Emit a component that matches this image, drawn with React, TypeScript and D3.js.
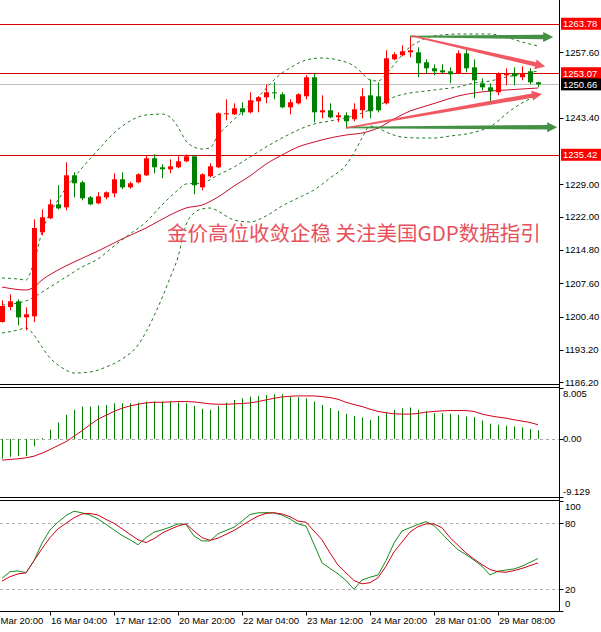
import React from 'react';
import * as d3 from 'd3';

const W = 601;
const H = 632;

// ---- candles (H4), index 0..67 ----
const opens = [1199.22,1202.47,1203.70,1200.24,1200.46,1218.64,1221.67,1224.70,1224.05,1230.98,1229.46,1226.21,1224.92,1226.21,1227.08,1230.11,1228.38,1229.46,1230.98,1234.66,1232.71,1232.28,1232.71,1234.01,1235.09,1228.38,1230.76,1232.71,1244.18,1244.18,1245.48,1244.61,1246.99,1247.86,1248.94,1248.51,1245.70,1246.56,1248.08,1252.19,1244.61,1245.05,1243.53,1243.96,1243.10,1245.05,1248.29,1248.08,1246.56,1256.08,1256.95,1257.60,1257.60,1255.44,1254.14,1253.70,1253.49,1253.05,1257.38,1254.35,1250.89,1250.02,1248.94,1252.62,1253.05,1252.19,1253.49,1251.11];
const highs = [1203.92,1205.22,1204.14,1202.40,1221.45,1223.62,1225.78,1228.82,1233.79,1231.63,1229.80,1226.50,1227.30,1227.50,1231.41,1231.63,1229.60,1231.41,1235.31,1235.52,1233.36,1234.44,1235.09,1235.50,1235.30,1231.40,1233.57,1244.61,1247.43,1246.56,1246.78,1248.94,1248.10,1250.67,1251.11,1248.94,1247.43,1248.73,1252.62,1253.05,1248.29,1246.56,1244.61,1244.61,1246.56,1249.81,1251.76,1251.11,1258.03,1257.60,1259.12,1261.06,1258.68,1256.08,1255.00,1255.00,1254.35,1258.03,1258.25,1256.08,1251.97,1250.89,1253.27,1254.14,1254.35,1254.57,1254.14,1251.20];
const lows = [1199.10,1201.76,1198.51,1197.43,1199.22,1217.99,1221.50,1223.60,1223.40,1226.21,1225.57,1224.50,1224.70,1225.78,1226.21,1227.95,1228.10,1229.25,1230.80,1231.41,1230.33,1231.41,1232.50,1233.80,1226.86,1227.73,1230.50,1232.50,1242.88,1244.00,1243.96,1244.40,1244.61,1246.56,1247.43,1245.48,1244.18,1246.30,1247.43,1242.45,1243.31,1243.30,1242.45,1241.15,1242.66,1243.31,1243.31,1244.60,1246.30,1255.90,1256.70,1256.52,1252.19,1253.05,1252.62,1253.05,1250.89,1252.84,1253.27,1247.64,1249.37,1246.99,1248.29,1250.46,1250.46,1251.54,1250.67,1250.02];
const closes = [1202.69,1203.70,1200.24,1200.89,1219.57,1221.89,1224.70,1223.83,1230.98,1229.25,1226.00,1224.70,1226.43,1227.30,1230.11,1228.38,1229.25,1231.19,1234.66,1232.71,1232.28,1232.92,1234.01,1235.09,1228.82,1231.19,1232.92,1244.40,1244.40,1245.48,1244.61,1247.21,1247.86,1248.94,1248.73,1245.70,1246.78,1248.51,1252.19,1244.61,1245.05,1243.53,1243.96,1242.66,1245.26,1248.08,1244.83,1245.05,1256.30,1257.17,1257.82,1258.03,1255.22,1254.14,1253.49,1253.27,1252.84,1257.38,1254.14,1251.54,1250.02,1249.16,1253.05,1253.05,1252.41,1253.05,1251.11,1250.66];

// ---- Bollinger bands & moving average, read as [candle index, price] ----
const bbUpper: [number, number][] = [[0,1208.75],[2,1208.53],[3,1208.31],[4,1212.21],[5,1218.70],[6,1222.82],[7,1225.63],[8,1228.23],[10,1232.56],[12,1236.45],[14,1240.13],[16,1242.73],[18,1244.03],[20,1244.24],[21,1243.60],[22,1241.43],[23,1238.40],[24,1237.10],[25,1236.67],[26,1236.89],[27,1239.70],[28,1241.43],[30,1244.68],[32,1247.92],[34,1251.60],[35,1253.12],[36,1254.20],[38,1255.93],[40,1256.37],[42,1255.93],[44,1254.63],[45,1253.12],[46,1251.60],[47,1251.39],[48,1252.90],[49,1254.85],[50,1257.02],[51,1258.75],[52,1259.83],[53,1260.70],[55,1261.35],[57,1261.56],[59,1261.56],[61,1261.56],[63,1260.91],[65,1259.83],[67,1258.96]];
const bbMiddle: [number, number][] = [[0,1202.90],[2,1203.34],[3,1203.77],[4,1204.64],[6,1206.80],[8,1208.96],[10,1211.13],[12,1212.86],[14,1215.67],[16,1218.27],[18,1220.87],[20,1224.55],[22,1227.80],[23,1229.09],[25,1229.31],[27,1231.04],[29,1232.77],[31,1234.94],[33,1237.10],[35,1239.05],[37,1240.78],[39,1242.08],[41,1242.73],[43,1243.38],[45,1244.46],[47,1245.98],[49,1247.92],[51,1248.79],[53,1249.22],[55,1249.66],[57,1250.09],[59,1250.96],[61,1251.39],[63,1252.25],[65,1252.90],[67,1253.55]];
const bbLower: [number, number][] = [[0,1196.84],[2,1197.49],[3,1197.92],[4,1196.41],[5,1193.81],[6,1191.43],[7,1189.92],[8,1188.83],[9,1188.18],[11,1188.40],[13,1189.48],[15,1191.21],[17,1194.24],[18,1197.06],[19,1200.52],[20,1204.42],[21,1208.75],[22,1213.29],[23,1220.22],[24,1222.82],[25,1223.68],[26,1223.90],[27,1223.25],[28,1222.17],[29,1221.30],[31,1220.87],[33,1222.17],[35,1224.33],[37,1226.06],[39,1227.80],[41,1230.39],[43,1233.21],[44,1235.80],[45,1239.05],[46,1241.65],[47,1241.21],[48,1240.35],[50,1239.27],[52,1239.05],[54,1239.05],[56,1239.48],[58,1239.92],[60,1240.78],[61,1241.43],[62,1242.73],[63,1244.24],[65,1246.63],[67,1248.36]];
const maLine: [number, number][] = [[0,1206.80],[3,1206.15],[4,1206.80],[5,1208.31],[7,1210.48],[9,1212.21],[12,1214.59],[15,1217.19],[18,1219.57],[21,1222.38],[23,1223.90],[25,1224.55],[27,1226.28],[29,1228.66],[31,1230.83],[33,1233.42],[35,1235.37],[37,1237.10],[39,1238.18],[41,1239.05],[43,1239.70],[45,1240.13],[47,1241.21],[49,1243.16],[51,1244.89],[53,1245.98],[55,1247.06],[57,1248.14],[59,1248.79],[61,1249.22],[63,1249.44],[65,1249.66],[67,1249.87]];

// ---- MACD ----
const macdHist = [-3.07,-2.81,-2.71,-2.71,-1.15,0.15,1.45,2.59,3.79,4.57,5.09,5.09,5.25,5.35,5.61,5.61,5.61,5.71,5.87,5.87,5.87,5.87,5.71,5.61,5.20,4.73,4.57,5.20,5.71,6.13,6.39,6.65,6.76,6.90,7.02,7.02,6.65,6.56,6.39,5.87,5.35,4.83,4.42,3.95,3.63,3.37,3.01,3.63,4.15,4.57,4.83,4.94,4.57,4.32,4.06,4.06,3.95,3.79,3.53,3.43,2.91,2.39,2.24,2.07,1.97,1.81,1.55,1.35];
const macdSignal = [-3.33,-3.23,-3.12,-2.97,-2.71,-2.24,-1.67,-1.04,-0.43,0.41,1.29,2.23,3.11,3.71,4.32,4.83,5.18,5.45,5.66,5.76,5.76,5.82,5.87,5.87,5.82,5.66,5.51,5.45,5.45,5.51,5.56,5.66,5.87,6.13,6.39,6.60,6.71,6.76,6.76,6.76,6.65,6.50,6.23,5.76,5.40,5.09,4.68,4.32,4.11,3.95,3.90,3.90,4.00,4.21,4.32,4.41,4.46,4.46,4.46,4.32,3.90,3.64,3.43,3.27,3.01,2.80,2.59,2.23];

// ---- Stochastic ----
const stochK = [30,36,36.7,35,46,62,74,81,87,91,89.5,87.5,84,79,74,69,65,60.5,67,72,74,76.5,79.5,79,68.5,64,64,70.5,73.5,76.5,82,88,89.5,89.7,89.5,87.5,84,79.5,77.5,61,44,39,34,28,20,28.5,31,33,46,62,73,76,79,81.5,78,70.5,63,56,51.5,46.5,41,33,36.5,37.5,38.5,41,44.5,48];
const stochD = [27.5,31.5,34,35,46,57,67,75,80,85,88.5,89,87.5,83.5,80,75,70,65,62.5,66,71,74.5,77.5,79.5,73,67,64.5,66.5,70,73.5,78,82.5,86.5,89,89.5,88.5,86,82,81,73,65,53,42,35,28,25,26,30.5,41,54,63,72,77,79.5,79.4,76,67,60,53,47.5,42.5,38,36,35.5,37,39,41.5,44];

// ---- axes / labels ----
const priceTicks = [1257.60, 1243.40, 1229.00, 1222.00, 1214.80, 1207.60, 1200.40, 1193.20, 1186.20];
const levelLines = [1263.78, 1253.07, 1235.42];
const lastPrice = 1250.66;
const macdLabels = [8.005, 0, -9.129];
const stochLevels = [80, 20];
const stochLabels = [100, 80, 20, 0];
const timeIdx = [-2, 6, 14, 22, 30, 38, 46, 54, 62];
const timeLabels = ['Mar 20:00','16 Mar 04:00','17 Mar 12:00','20 Mar 20:00','22 Mar 04:00','23 Mar 12:00','24 Mar 20:00','28 Mar 01:00','29 Mar 08:00'];
const title = '金价高位收敛企稳 关注美国GDP数据指引';

// annotation arrows: [fromIndex, fromPrice, toIndex, toPrice]
const greenArrows: [number, number, number, number][] = [[51, 1261.0, 68.9, 1260.9], [43, 1241.3, 69.4, 1241.4]];
const redArrows: [number, number, number, number][] = [[51.2, 1261.2, 67.9, 1254.5], [43, 1241.2, 67.5, 1248.6]];

const AXIS_X = 559.5;
const FONT = '"Liberation Sans", Arial, sans-serif';

function arrowPath(x1: number, y1: number, x2: number, y2: number, w0: number, w1: number, hl: number, hw: number) {
  const dx = x2 - x1, dy = y2 - y1;
  const L = Math.hypot(dx, dy);
  const ux = dx / L, uy = dy / L;
  const nx = -uy, ny = ux;
  const bx = x2 - ux * hl, by = y2 - uy * hl;
  const p = [
    [x1 + nx * w0 / 2, y1 + ny * w0 / 2],
    [bx + nx * w1 / 2, by + ny * w1 / 2],
    [bx + nx * hw / 2, by + ny * hw / 2],
    [x2, y2],
    [bx - nx * hw / 2, by - ny * hw / 2],
    [bx - nx * w1 / 2, by - ny * w1 / 2],
    [x1 - nx * w0 / 2, y1 - ny * w0 / 2],
  ];
  return 'M' + p.map(q => q[0].toFixed(2) + ',' + q[1].toFixed(2)).join('L') + 'Z';
}

export default function App() {
  const x = d3.scaleLinear().domain([0, 67]).range([2, 538]);
  const yP = d3.scaleLinear().domain([1185.70, 1268.92]).range([384.5, 0]);
  const yM = d3.scaleLinear().domain([-9.129, 8.005]).range([497, 388]);
  const yS = d3.scaleLinear().domain([0, 100]).range([611.3, 501.3]);

  const pLine = d3.line<[number, number]>().x(d => x(d[0])).y(d => yP(d[1])).curve(d3.curveMonotoneX);
  const mLine = d3.line<number>().x((_, i) => x(i)).y(d => yM(d));
  const sLine = d3.line<number>().x((_, i) => x(i)).y(d => yS(d));

  const red = '#ff0000';
  const green = '#008000';

  return (
    <svg width={W} height={H} viewBox={`0 0 ${W} ${H}`} style={{ position: 'absolute', left: 0, top: 0, background: '#fff' }}>
      <defs>
        <clipPath id="pc"><rect x={0} y={0} width={AXIS_X} height={384} /></clipPath>
        <clipPath id="mc"><rect x={0} y={388} width={AXIS_X} height={109} /></clipPath>
        <clipPath id="sc"><rect x={0} y={501} width={AXIS_X} height={110} /></clipPath>
      </defs>
      <rect x={0} y={0} width={W} height={H} fill="#fff" />

      {/* ---------- price panel ---------- */}
      <g clipPath="url(#pc)">
        {levelLines.map(v => (
          <line key={v} x1={0} x2={AXIS_X} y1={Math.round(yP(v)) + 0.5} y2={Math.round(yP(v)) + 0.5} stroke="#d40000" strokeWidth={1} />
        ))}
        <line x1={0} x2={AXIS_X} y1={Math.round(yP(lastPrice)) + 0.5} y2={Math.round(yP(lastPrice)) + 0.5} stroke="#c0c0c0" strokeWidth={1} />

        {[bbUpper, bbMiddle, bbLower].map((d, k) => (
          <path key={k} d={pLine(d) || ''} fill="none" stroke="#1f7a1f" strokeWidth={1} strokeDasharray="3,3" />
        ))}
        <path d={pLine(maLine) || ''} fill="none" stroke="#c8102e" strokeWidth={1} />

        <text x={167} y={232} fill="#e8505c" fontFamily='"Noto Sans CJK SC", sans-serif' fontSize={20.5} dominantBaseline="central">{title}</text>

        {closes.map((c, i) => {
          const o = opens[i];
          const up = c >= o;
          const col = up ? red : green;
          const cx = Math.round(x(i));
          const top = yP(Math.max(o, c));
          const bot = yP(Math.min(o, c));
          return (
            <g key={i}>
              <line x1={cx + 0.5} x2={cx + 0.5} y1={yP(highs[i])} y2={yP(lows[i])} stroke={col} strokeWidth={1} />
              <rect x={cx - 2} y={top} width={5} height={Math.max(1, bot - top)} fill={col} />
            </g>
          );
        })}

        {greenArrows.map((a, k) => (
          <path key={'g' + k} d={arrowPath(x(a[0]), yP(a[1]), x(a[2]), yP(a[3]), 1.5, 4.5, 10, 10)} fill="#3a8a3a" opacity={0.95} />
        ))}
        {redArrows.map((a, k) => (
          <path key={'r' + k} d={arrowPath(x(a[0]), yP(a[1]), x(a[2]), yP(a[3]), 1.5, 4.5, 10, 10)} fill="#f0505a" opacity={0.95} />
        ))}
      </g>

      {/* ---------- MACD panel ---------- */}
      <g clipPath="url(#mc)">
        <line x1={0} x2={AXIS_X} y1={Math.round(yM(0)) + 0.5} y2={Math.round(yM(0)) + 0.5} stroke="#a8a8a8" strokeDasharray="3,3" />
        {macdHist.map((v, i) => (
          <line key={i} x1={Math.round(x(i)) + 0.5} x2={Math.round(x(i)) + 0.5} y1={yM(0)} y2={yM(v)} stroke={green} strokeWidth={1} />
        ))}
        <path d={mLine(macdSignal) || ''} fill="none" stroke="#d0021b" strokeWidth={1} />
      </g>

      {/* ---------- Stochastic panel ---------- */}
      <g clipPath="url(#sc)">
        {stochLevels.map(v => (
          <line key={v} x1={0} x2={AXIS_X} y1={Math.round(yS(v)) + 0.5} y2={Math.round(yS(v)) + 0.5} stroke="#b0b0b0" strokeDasharray="3,3" />
        ))}
        <path d={sLine(stochK) || ''} fill="none" stroke="#1a8a1a" strokeWidth={1} />
        <path d={sLine(stochD) || ''} fill="none" stroke="#d0021b" strokeWidth={1} />
      </g>

      {/* ---------- frames ---------- */}
      <line x1={0} x2={AXIS_X} y1={384.5} y2={384.5} stroke="#000" />
      <line x1={0} x2={AXIS_X} y1={387.5} y2={387.5} stroke="#000" />
      <line x1={0} x2={AXIS_X} y1={497.5} y2={497.5} stroke="#000" />
      <line x1={0} x2={AXIS_X} y1={500.5} y2={500.5} stroke="#000" />
      <line x1={0} x2={AXIS_X} y1={611.5} y2={611.5} stroke="#000" />
      <line x1={AXIS_X} x2={AXIS_X} y1={0} y2={611.5} stroke="#000" />

      {/* ---------- price axis ---------- */}
      <g fontFamily={FONT} fontSize={9.5} fill="#000">
        {priceTicks.map(v => {
          const yy = Math.min(yP(v), 383);
          return (
            <g key={v}>
              <line x1={AXIS_X} x2={AXIS_X + 4} y1={Math.round(yy) + 0.5} y2={Math.round(yy) + 0.5} stroke="#000" />
              <text x={565} y={yy + 3.4}>{v.toFixed(2)}</text>
            </g>
          );
        })}
        {levelLines.map(v => (
          <g key={v}>
            <rect x={561} y={yP(v) - 6} width={40} height={12} fill={red} />
            <text x={563} y={yP(v) + 3.4} fill="#fff">{v.toFixed(2)}</text>
          </g>
        ))}
        <rect x={561} y={yP(lastPrice) - 6} width={40} height={12} fill="#000" />
        <text x={563} y={yP(lastPrice) + 3.4} fill="#fff">{lastPrice.toFixed(2)}</text>

        {/* MACD axis */}
        {macdLabels.map(v => {
          const yy = Math.max(394, Math.min(492, yM(v)));
          return (
            <g key={v}>
              <line x1={AXIS_X} x2={AXIS_X + 4} y1={Math.round(yM(v)) + 0.5} y2={Math.round(yM(v)) + 0.5} stroke="#000" />
              <text x={563} y={yy + 3.4}>{v === 0 ? '0.00' : String(v)}</text>
            </g>
          );
        })}

        {/* Stochastic axis */}
        {stochLabels.map(v => {
          const yy = Math.max(507, Math.min(604, yS(v)));
          return (
            <g key={v}>
              <line x1={AXIS_X} x2={AXIS_X + 4} y1={Math.round(yS(v)) + 0.5} y2={Math.round(yS(v)) + 0.5} stroke="#000" />
              <text x={565} y={yy + 3.4}>{v}</text>
            </g>
          );
        })}

        {/* time axis */}
        {timeIdx.map((t, k) => (
          <g key={t}>
            {t >= 0 && <line x1={Math.round(x(t)) + 0.5} x2={Math.round(x(t)) + 0.5} y1={611.5} y2={615.5} stroke="#000" />}
            <text x={t >= 0 ? x(t) + 1 : 0.5} y={623.5}>{timeLabels[k]}</text>
          </g>
        ))}
      </g>
    </svg>
  );
}
